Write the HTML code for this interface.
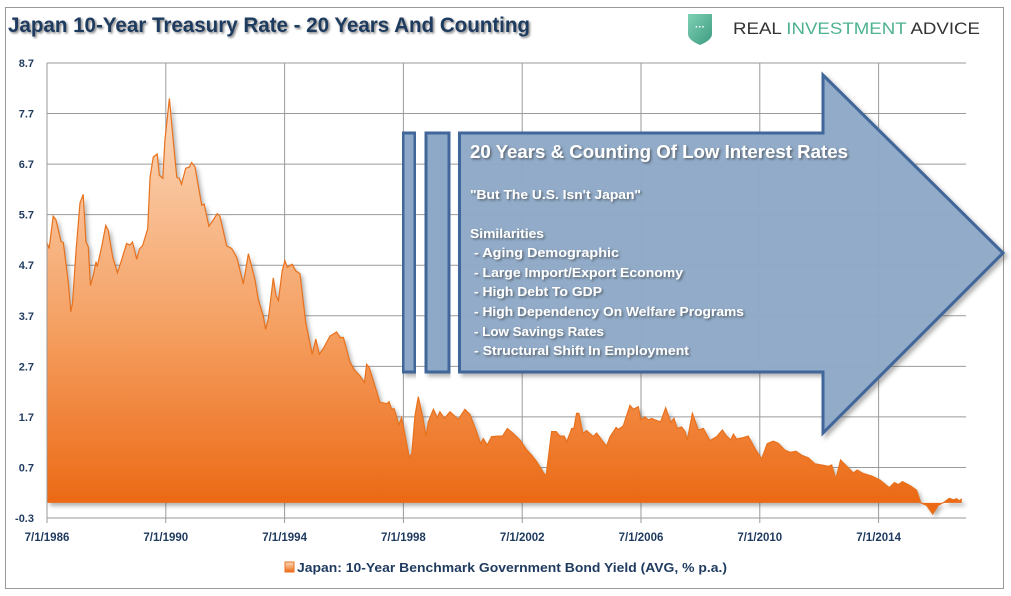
<!DOCTYPE html>
<html><head><meta charset="utf-8"><style>
html,body{margin:0;padding:0;background:#fff;}
svg{display:block;font-family:"Liberation Sans",sans-serif;}
</style></head><body>
<svg id="chart" width="1011" height="596" viewBox="0 0 1011 596" xmlns="http://www.w3.org/2000/svg">
<defs>
<linearGradient id="areaGrad" x1="0" y1="0" x2="0" y2="1">
<stop offset="0" stop-color="#fbd9bd"/><stop offset="0.55" stop-color="#f5a062"/><stop offset="1" stop-color="#eb6610"/>
</linearGradient>
<linearGradient id="shieldGrad" x1="0" y1="0" x2="1" y2="1">
<stop offset="0" stop-color="#7fd0b4"/><stop offset="1" stop-color="#3c9c80"/>
</linearGradient>
<filter id="shadow" x="-5%" y="-5%" width="110%" height="115%"><feDropShadow dx="3" dy="3" stdDeviation="2" flood-color="#555" flood-opacity="0.45"/></filter>
<filter id="tshadow"><feDropShadow dx="1.5" dy="1.5" stdDeviation="1" flood-color="#333" flood-opacity="0.6"/></filter>
</defs>
<rect x="5.5" y="7.5" width="998" height="581" fill="#fff" stroke="#999" stroke-width="1"/>
<text x="8" y="32" font-size="21" font-weight="bold" fill="#1f3a5f" textLength="522" lengthAdjust="spacingAndGlyphs" filter="url(#tshadow)">Japan 10-Year Treasury Rate - 20 Years And Counting</text>
<g>
<path d="M688,14 L712,14 L712,34 Q712,40 700,45 Q688,40 688,34 Z" fill="url(#shieldGrad)"/>
<text x="700" y="30" font-size="10" fill="#fff" text-anchor="middle" font-weight="bold">···</text>
<text x="733" y="34" font-size="17" textLength="247" lengthAdjust="spacingAndGlyphs"><tspan fill="#333">REAL </tspan><tspan fill="#4db28e">INVESTMENT </tspan><tspan fill="#333">ADVICE</tspan></text>
</g>
<g id="grid"></g>
<g id="series"></g>
<g id="axes"></g>
<g id="annot">
<rect x="403" y="133" width="12" height="239" fill="#8ea9c8" stroke="#41669a" stroke-width="3" filter="url(#shadow)"/>
<rect x="426" y="133" width="23" height="239" fill="#8ea9c8" stroke="#41669a" stroke-width="3" filter="url(#shadow)"/>
<path d="M459.5,133 L823,133 L823,75 L1003,253 L823,433 L823,372 L459.5,372 Z" fill="#8ea9c8" fill-opacity="0.97" stroke="#41669a" stroke-width="3" stroke-linejoin="miter" filter="url(#shadow)"/>
<g fill="#fff" font-weight="bold" filter="url(#tshadow)">
<text x="470" y="158" font-size="18" textLength="378" lengthAdjust="spacingAndGlyphs">20 Years &amp; Counting Of Low Interest Rates</text>
<text x="470" y="199" font-size="12.5" textLength="171" lengthAdjust="spacingAndGlyphs">"But The U.S. Isn't Japan"</text>
<text x="470" y="238" font-size="12.5" textLength="74" lengthAdjust="spacingAndGlyphs">Similarities</text>
<text x="474" y="257" font-size="12.5" textLength="145" lengthAdjust="spacingAndGlyphs">- Aging Demographic</text>
<text x="474" y="277" font-size="12.5" textLength="209" lengthAdjust="spacingAndGlyphs">- Large Import/Export Economy</text>
<text x="474" y="296" font-size="12.5" textLength="128" lengthAdjust="spacingAndGlyphs">- High Debt To GDP</text>
<text x="474" y="316" font-size="12.5" textLength="270" lengthAdjust="spacingAndGlyphs">- High Dependency On Welfare Programs</text>
<text x="474" y="336" font-size="12.5" textLength="130" lengthAdjust="spacingAndGlyphs">- Low Savings Rates</text>
<text x="474" y="355" font-size="12.5" textLength="215" lengthAdjust="spacingAndGlyphs">- Structural Shift In Employment</text>
</g>
</g>
<g>
<rect x="285" y="562" width="9" height="10" fill="url(#areaGrad)" stroke="#e8711c"/>
<text x="297" y="572" font-size="12.5" font-weight="bold" fill="#1f3a5f" textLength="430" lengthAdjust="spacingAndGlyphs">Japan: 10-Year Benchmark Government Bond Yield (AVG, % p.a.)</text>
</g>
</svg>
<script>
const dates = [1986.49,1986.57,1986.71,1986.80,1986.97,1987.05,1987.22,1987.30,1987.36,1987.48,1987.61,1987.72,1987.81,1987.89,1987.96,1988.06,1988.15,1988.19,1988.34,1988.48,1988.56,1988.71,1988.87,1989.01,1989.18,1989.29,1989.38,1989.52,1989.61,1989.72,1989.89,1989.97,1990.08,1990.21,1990.28,1990.40,1990.47,1990.62,1990.75,1990.87,1990.95,1991.03,1991.17,1991.29,1991.37,1991.48,1991.71,1991.79,1991.95,1992.07,1992.23,1992.32,1992.55,1992.72,1992.89,1993.11,1993.28,1993.50,1993.61,1993.78,1993.86,1993.95,1994.12,1994.21,1994.29,1994.42,1994.51,1994.59,1994.76,1994.87,1995.02,1995.21,1995.43,1995.55,1995.67,1995.80,1996.03,1996.25,1996.37,1996.48,1996.70,1996.85,1997.04,1997.19,1997.26,1997.35,1997.71,1997.94,1998.02,1998.10,1998.19,1998.35,1998.44,1998.70,1998.78,1998.89,1999.00,1999.15,1999.26,1999.34,1999.51,1999.64,1999.73,1999.88,2000.07,2000.35,2000.57,2000.74,2000.94,2001.10,2001.19,2001.32,2001.47,2001.70,2001.84,2002.00,2002.20,2002.43,2002.65,2002.82,2002.99,2003.16,2003.30,2003.49,2003.64,2003.77,2003.91,2004.00,2004.17,2004.24,2004.33,2004.41,2004.54,2004.67,2004.89,2005.01,2005.18,2005.34,2005.46,2005.66,2005.74,2005.90,2006.13,2006.24,2006.41,2006.49,2006.63,2006.75,2006.86,2006.97,2007.16,2007.33,2007.50,2007.61,2007.72,2007.87,2007.98,2008.06,2008.23,2008.43,2008.60,2008.82,2009.05,2009.24,2009.38,2009.52,2009.61,2009.72,2009.94,2010.11,2010.34,2010.56,2010.75,2010.95,2011.12,2011.35,2011.52,2011.72,2011.91,2012.13,2012.36,2012.64,2012.81,2012.92,2013.06,2013.22,2013.43,2013.65,2013.78,2013.98,2014.27,2014.55,2014.86,2015.03,2015.17,2015.30,2015.56,2015.78,2015.92,2016.12,2016.32,2016.51,2016.70,2016.88,2017.02,2017.13,2017.22,2017.30];
const yields = [5.16,5.03,5.67,5.6,5.17,5.15,4.34,3.78,3.95,5.0,5.93,6.1,5.17,5.06,4.3,4.5,4.77,4.67,5.06,5.49,5.39,4.87,4.55,4.8,5.13,5.1,5.16,4.82,5.02,5.09,5.42,6.45,6.84,6.9,6.48,6.42,7.17,8.0,7.17,6.44,6.42,6.3,6.62,6.64,6.73,6.65,5.89,5.91,5.47,5.57,5.72,5.67,5.08,5.03,4.85,4.33,4.93,4.42,4.03,3.7,3.43,3.64,4.45,4.1,4.0,4.59,4.79,4.66,4.72,4.59,4.53,3.57,2.94,3.24,2.94,3.05,3.3,3.38,3.27,3.27,2.79,2.63,2.51,2.38,2.74,2.68,1.99,1.96,2.0,1.86,1.86,1.54,1.69,0.9,0.97,1.73,2.1,1.7,1.32,1.6,1.85,1.68,1.8,1.67,1.8,1.65,1.85,1.75,1.44,1.17,1.27,1.14,1.31,1.32,1.32,1.47,1.37,1.24,1.05,0.94,0.81,0.65,0.52,1.41,1.41,1.32,1.32,1.21,1.47,1.47,1.77,1.77,1.37,1.43,1.31,1.38,1.24,1.12,1.31,1.49,1.45,1.52,1.93,1.85,1.9,1.64,1.7,1.64,1.67,1.64,1.6,1.88,1.59,1.67,1.47,1.5,1.41,1.24,1.77,1.44,1.47,1.23,1.31,1.44,1.32,1.24,1.36,1.26,1.29,1.32,1.07,0.87,1.17,1.22,1.18,1.04,1.0,1.02,0.94,0.89,0.77,0.74,0.72,0.75,0.47,0.85,0.72,0.59,0.65,0.58,0.53,0.45,0.3,0.4,0.36,0.42,0.34,0.25,0.0,-0.05,-0.22,-0.05,0.01,0.09,0.06,0.08,0.04,0.08];
const yTicks = [8.7,7.7,6.7,5.7,4.7,3.7,2.7,1.7,0.7,-0.3];
const xTickYears = [1986.5,1990.5,1994.5,1998.5,2002.5,2006.5,2010.5,2014.5];
const xTickLabels = ["7/1/1986","7/1/1990","7/1/1994","7/1/1998","7/1/2002","7/1/2006","7/1/2010","7/1/2014"];

const NS="http://www.w3.org/2000/svg";
const X0=47, X1=966, Y0=518, Y1=63, yMin=-0.3, yMax=8.7;
const xScale = d => X0 + (d-1986.5)*29.7;
const yScale = v => Y0 - (v-yMin)/(yMax-yMin)*(Y0-Y1);
function mk(tag, attrs, parent){const e=document.createElementNS(NS,tag);for(const k in attrs)e.setAttribute(k,attrs[k]);parent.appendChild(e);return e;}
const grid=document.getElementById('grid'), axes=document.getElementById('axes'), series=document.getElementById('series');
yTicks.forEach(t=>{
  const l=mk('line',{x1:X0,x2:X1,y1:yScale(t),y2:yScale(t),stroke:'#9a9a9a','stroke-width':1},grid);
  
  
  const tx=mk('text',{x:34,y:yScale(t)+4,'font-size':11,'font-weight':'bold',fill:'#1f3a5f','text-anchor':'end'},axes);
  tx.textContent=t.toFixed(1);
  
  
});
xTickYears.forEach((d,i)=>{
  const x=xScale(d);
  const l=mk('line',{x1:x,x2:x,y1:Y1,y2:Y0+5,stroke:'#9a9a9a','stroke-width':1},grid);
  
  
  const tx=mk('text',{x:x+(i===0?0:0),y:541,'font-size':11.5,'font-weight':'bold',fill:'#1f3a5f','text-anchor':'middle'},axes);
  tx.textContent=xTickLabels[i];
  
  
});
const base=yScale(0);
let d=`M${xScale(dates[0])},${base}`;
dates.forEach((t,i)=>{d+=` L${xScale(t).toFixed(1)},${yScale(yields[i]).toFixed(1)}`;});
d+=` L${xScale(dates[dates.length-1])},${base} Z`;
const area=mk('path',{d:d,fill:'url(#areaGrad)',filter:'url(#shadow)'},series);


let ld='';
dates.forEach((t,i)=>{ld+=(i?' L':'M')+xScale(t).toFixed(1)+','+yScale(yields[i]).toFixed(1);});
const line=mk('path',{d:ld,fill:'none',stroke:'#e8711c','stroke-width':1.2},series);


const ax=mk('line',{x1:X0,x2:X0,y1:Y1,y2:Y0,stroke:'#9a9a9a'},axes);


</script>
</body></html>
